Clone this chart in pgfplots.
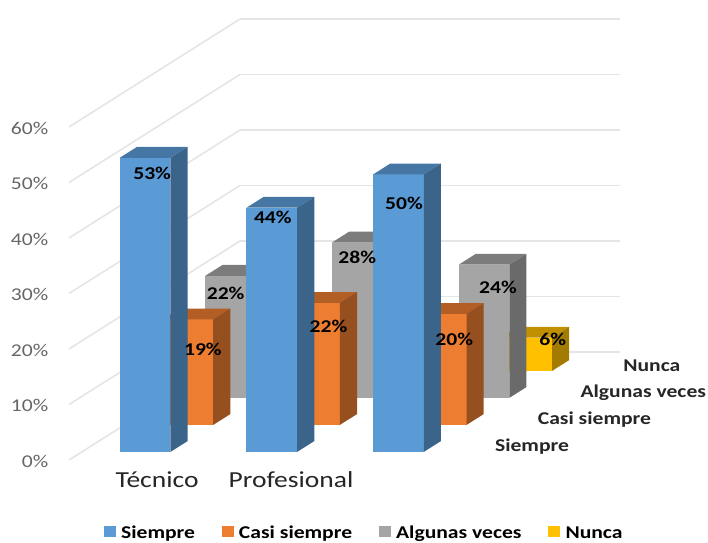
\documentclass[border=0pt]{standalone}
\usepackage{fontspec}
\usepackage{pgfplots}
\pgfplotsset{compat=1.18}
\newfontfamily\axfont[FakeStretch=1.2]{Carlito}
\newfontfamily\boldfont[FakeStretch=1.2]{Carlito Bold}

\definecolor{azul}{HTML}{5B9BD5}\definecolor{azulT}{HTML}{4676A4}\definecolor{azulS}{HTML}{3A6489}
\definecolor{nar}{HTML}{ED7D31}\definecolor{narT}{HTML}{B35E25}\definecolor{narS}{HTML}{964F1F}
\definecolor{gri}{HTML}{A5A5A5}\definecolor{griT}{HTML}{7C7C7C}\definecolor{griS}{HTML}{6A6A6A}
\definecolor{ama}{HTML}{FFC000}\definecolor{amaT}{HTML}{C09000}\definecolor{amaS}{HTML}{A37B00}

% one 3D column: category, series, value, colour stem
\newcommand{\prism}[4]{%
  \pgfmathsetmacro{\xa}{#1+0.3}\pgfmathsetmacro{\xb}{#1+0.7}%
  \pgfmathsetmacro{\ya}{#2+0.3}\pgfmathsetmacro{\yb}{#2+0.7}%
  \addplot3[fill=#4,draw=none,forget plot] coordinates {(\xa,\ya,0) (\xb,\ya,0) (\xb,\ya,#3) (\xa,\ya,#3)} -- cycle;
  \addplot3[fill=#4T,draw=none,forget plot] coordinates {(\xa,\ya,#3) (\xb,\ya,#3) (\xb,\yb,#3) (\xa,\yb,#3)} -- cycle;
  \addplot3[fill=#4S,draw=none,forget plot] coordinates {(\xb,\ya,0) (\xb,\yb,0) (\xb,\yb,#3) (\xb,\ya,#3)} -- cycle;
}
% value label: category, series, value, shift right, shift up (both in image pixels)
\newcommand{\etiqueta}[5]{%
  \pgfmathsetmacro{\xa}{#1+0.5}\pgfmathsetmacro{\ya}{#2+0.3}%
  \addplot3[forget plot,only marks,mark=none,nodes near coords={\boldfont\fontsize{13.5}{14}\selectfont #3\%},
    every node near coord/.style={anchor=center,inner sep=0pt,xshift=#4*0.75pt,yshift=#5*0.75pt,text=black}]
    coordinates {(\xa,\ya,#3)};
}

\begin{document}
\begin{tikzpicture}
\begin{axis}[
  x={(95pt,0pt)}, y={(32.06pt,20.25pt)}, z={(0pt,4.1625pt)},
  xmin=0,xmax=3,ymin=0,ymax=4,zmin=0,zmax=60,
  clip=false,
  axis line style={draw=none}, tick style={draw=none},
  zmajorgrids=true, xmajorgrids=false, ymajorgrids=false,
  major grid style={draw=black!10,line width=1.2pt},
  xtick={0.695,1.753}, xticklabels={Técnico,Profesional},
  ytick={0.5,1.5,2.5,3.5}, yticklabels={Siempre,Casi siempre,Algunas veces,Nunca},
  ztick={0,10,20,30,40,50,60}, zticklabels={0\%,10\%,20\%,30\%,40\%,50\%,60\%},
  xtick pos=left, ytick pos=left,
  xticklabel style={font=\axfont\fontsize{17.2}{18}\selectfont,text=black!85,anchor=center,yshift=-15pt},
  yticklabel style={font=\boldfont\fontsize{13.5}{14}\selectfont,anchor=west,text=black!85,xshift=15pt,yshift=0pt},
  zticklabel style={font=\axfont\fontsize{13.5}{14}\selectfont,text=black!60,anchor=east,xshift=-12pt,yshift=-1pt},
  legend columns=4,
  legend style={draw=none,fill=none,at={(axis description cs:0.5,-0.2)},anchor=south,xshift=15pt,yshift=1.5pt,
    font=\boldfont\fontsize{13.5}{14}\selectfont,
    /tikz/every even column/.style={column sep=18pt},
    /tikz/every odd column/.style={column sep=2pt}},
  legend image code/.code={\fill[#1,draw=none] (0pt,-3pt) rectangle (9pt,5.5pt);},
]
\addlegendimage{fill=azul}\addlegendentry{Siempre}
\addlegendimage{fill=nar}\addlegendentry{Casi siempre}
\addlegendimage{fill=gri}\addlegendentry{Algunas veces}
\addlegendimage{fill=ama}\addlegendentry{Nunca}

% columns from the back row to the front row
\prism{2}{3}{6}{ama}
\prism{0}{2}{22}{gri}
\prism{1}{2}{28}{gri}
\prism{2}{2}{24}{gri}
\prism{0}{1}{19}{nar}
\prism{1}{1}{22}{nar}
\prism{2}{1}{20}{nar}
\prism{0}{0}{53}{azul}
\prism{1}{0}{44}{azul}
\prism{2}{0}{50}{azul}

\etiqueta{0}{0}{53}{7}{-16}
\etiqueta{1}{0}{44}{1}{-10}
\etiqueta{2}{0}{50}{5.5}{-28.5}
\etiqueta{0}{1}{19}{15}{-30}
\etiqueta{1}{1}{22}{14}{-24}
\etiqueta{2}{1}{20}{13}{-25}
\etiqueta{0}{2}{22}{-5}{-18}
\etiqueta{1}{2}{28}{0}{-15}
\etiqueta{2}{2}{24}{14}{-22.5}
\etiqueta{2}{3}{6}{26}{-2}

\coordinate (O) at (axis cs:0,0,0);
\end{axis}
\pgfresetboundingbox
\path[use as bounding box] (O) ++(-51.75pt,-62.25pt) rectangle ++(531pt,407.25pt);
\end{tikzpicture}
\end{document}
